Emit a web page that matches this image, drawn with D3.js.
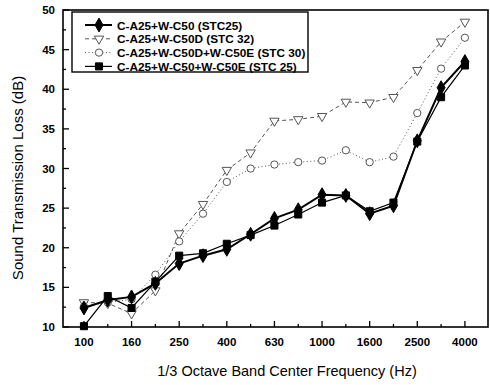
<!DOCTYPE html>
<html>
<head>
<meta charset="utf-8">
<script src="https://cdn.jsdelivr.net/npm/d3@7"></script>
<style>
  body { margin: 0; background: #fff; }
  svg text { font-family: "Liberation Sans", Arial, sans-serif; fill: #000; }
</style>
</head>
<body>
<div id="chart"></div>
<script>
// 1/3 octave bands
const bands = ['100','125','160','200','250','315','400','500','630','800','1000','1250','1600','2000','2500','3150','4000'];
const tickLabels = ['100','160','250','400','630','1000','1600','2500','4000'];

const names = [
  'C-A25+W-C50 (STC25)',
  'C-A25+W-C50D (STC 32)',
  'C-A25+W-C50D+W-C50E (STC 30)',
  'C-A25+W-C50+W-C50E (STC 25)'
];

const stcA = [12.4, 13.4, 13.8, 15.5, 18.0, 19.0, 19.8, 21.7, 23.7, 24.8, 26.7, 26.6, 24.3, 25.3, 33.5, 40.2, 43.5];
const stcB = [13.1, 13.0, 11.7, 14.6, 21.8, 25.5, 29.8, 32.0, 36.0, 36.2, 36.6, 38.4, 38.3, 39.0, 42.4, 46.0, 48.5];
const stcC = [12.6, 13.1, 13.5, 16.6, 20.8, 24.3, 28.3, 30.0, 30.5, 30.8, 31.0, 32.3, 30.8, 31.5, 37.0, 42.6, 46.5];
const stcD = [10.1, 13.9, 12.4, 15.7, 19.0, 19.3, 20.5, 21.6, 22.8, 24.2, 25.7, 26.6, 24.6, 25.7, 33.4, 39.0, 43.0];

const yTicks = [10, 15, 20, 25, 30, 35, 40, 45, 50];

const width = 490, height = 385;
const plot = { left: 63, right: 488, top: 10, bottom: 327 };

const svg = d3.select('#chart').append('svg')
  .attr('width', width)
  .attr('height', height);

const x = d3.scaleLinear().domain([-0.88, 16.97]).range([plot.left, plot.right]);
const y = d3.scaleLinear().domain([10, 50]).range([plot.bottom, plot.top]);

//Frame
svg.append('rect')
  .attr('x', plot.left).attr('y', plot.top)
  .attr('width', plot.right - plot.left).attr('height', plot.bottom - plot.top)
  .attr('fill', 'none').attr('stroke', '#000').attr('stroke-width', 1.6);

//X axis ticks (inward), major on labelled bands
const xAxis = svg.append('g');
bands.forEach((b, i) => {
  const major = tickLabels.includes(b);
  xAxis.append('line')
    .attr('x1', x(i)).attr('x2', x(i))
    .attr('y1', plot.bottom).attr('y2', plot.bottom - (major ? 6 : 3))
    .attr('stroke', '#000').attr('stroke-width', 1.3);
  if (major) {
    xAxis.append('text')
      .attr('x', x(i)).attr('y', plot.bottom + 19)
      .attr('text-anchor', 'middle')
      .attr('font-size', 11.5).attr('font-weight', 'bold')
      .text(b);
  }
});

//Y axis ticks
const yAxis = svg.append('g');
d3.range(10, 50.1, 2.5).forEach(v => {
  const major = v % 5 === 0;
  yAxis.append('line')
    .attr('x1', plot.left).attr('x2', plot.left + (major ? 6 : 3))
    .attr('y1', y(v)).attr('y2', y(v))
    .attr('stroke', '#000').attr('stroke-width', 1.3);
});
yTicks.forEach(v => {
  yAxis.append('text')
    .attr('x', plot.left - 8).attr('y', y(v) + 4)
    .attr('text-anchor', 'end')
    .attr('font-size', 11.5).attr('font-weight', 'bold')
    .text(v);
});

//Axis titles
svg.append('text')
  .attr('x', 287).attr('y', 376)
  .attr('text-anchor', 'middle')
  .attr('font-size', 14.5)
  .text('1/3 Octave Band Center Frequency (Hz)');

svg.append('text')
  .attr('transform', `translate(23,178) rotate(-90)`)
  .attr('text-anchor', 'middle')
  .attr('font-size', 15)
  .text('Sound Transmission Loss (dB)');

const series = [
  { name: names[0], values: stcA, width: 2, dash: null, color: '#000', symbol: d3.symbolDiamond, size: 55, fill: '#000' },
  { name: names[1], values: stcB, width: 1, dash: '4,3', color: '#555', symbol: d3.symbolTriangle, size: 38, fill: '#fff', flip: true },
  { name: names[2], values: stcC, width: 1, dash: '1,2.5', color: '#555', symbol: d3.symbolCircle, size: 42, fill: '#fff' },
  { name: names[3], values: stcD, width: 1.2, dash: null, color: '#000', symbol: d3.symbolSquare, size: 50, fill: '#000' }
];

const line = d3.line().x((d, i) => x(i)).y(d => y(d));

//Draw dashed/dotted first, solid lines on top
[1, 2, 0, 3].forEach(k => {
  const s = series[k];
  const g = svg.append('g');
  g.append('path')
    .datum(s.values)
    .attr('d', line)
    .attr('fill', 'none')
    .attr('stroke', s.color)
    .attr('stroke-width', s.width)
    .attr('stroke-dasharray', s.dash);
  g.selectAll('path.pt')
    .data(s.values)
    .join('path')
    .attr('class', 'pt')
    .attr('d', d3.symbol().type(s.symbol).size(s.size))
    .attr('transform', (d, i) => `translate(${x(i)},${y(d)})` + (s.flip ? ' rotate(180)' : ''))
    .attr('fill', s.fill)
    .attr('stroke', s.color)
    .attr('stroke-width', 1);
});

//Legend
const lg = svg.append('g');
lg.append('rect')
  .attr('x', 72).attr('y', 12)
  .attr('width', 236).attr('height', 60)
  .attr('fill', '#fff').attr('stroke', '#000').attr('stroke-width', 1.4);

series.forEach((s, i) => {
  const ly = 25 + i * 13.8;
  lg.append('line')
    .attr('x1', 85).attr('x2', 112)
    .attr('y1', ly).attr('y2', ly)
    .attr('stroke', s.color)
    .attr('stroke-width', s.width)
    .attr('stroke-dasharray', s.dash);
  lg.append('path')
    .attr('d', d3.symbol().type(s.symbol).size(s.size))
    .attr('transform', `translate(99,${ly})` + (s.flip ? ' rotate(180)' : ''))
    .attr('fill', s.fill)
    .attr('stroke', s.color);
  lg.append('text')
    .attr('x', 117).attr('y', ly + 4.5)
    .attr('font-size', 11.8).attr('font-weight', 'bold')
    .text(s.name);
});
</script>
</body>
</html>
